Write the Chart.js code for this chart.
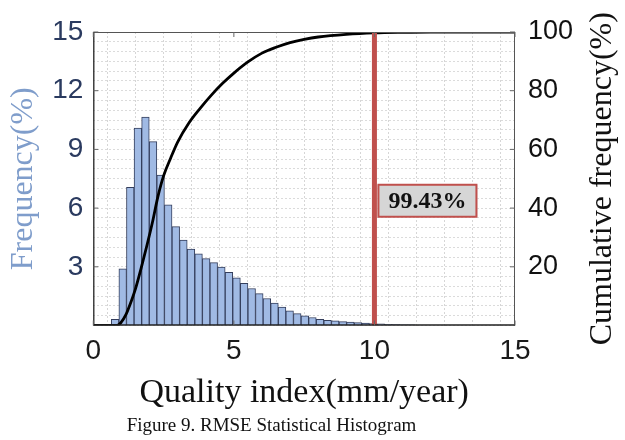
<!DOCTYPE html>
<html><head><meta charset="utf-8">
<script src="https://cdn.jsdelivr.net/npm/chart.js@4.4.1/dist/chart.umd.min.js"></script>
<style>html,body{margin:0;padding:0;background:#fff;}#wrap{width:625px;height:440px;}</style>
</head><body><div id="wrap"><canvas id="c" width="625" height="440"></canvas></div>
<script>
// ---- data ----
const binCenters = [0.775, 1.045, 1.315, 1.585, 1.855, 2.125, 2.395, 2.665, 2.935, 3.205,
  3.475, 3.745, 4.015, 4.285, 4.555, 4.825, 5.095, 5.365, 5.635, 5.905,
  6.175, 6.445, 6.715, 6.985, 7.255, 7.525, 7.795, 8.065, 8.335, 8.605,
  8.875, 9.145, 9.415, 9.685, 9.955, 10.225, 10.495, 10.765, 11.035, 11.305];
const frequency = [0.32, 2.89, 7.06, 10.09, 10.65, 9.40, 7.69, 6.17, 5.05, 4.37,
  3.91, 3.66, 3.42, 3.21, 2.98, 2.72, 2.43, 2.16, 1.89, 1.63,
  1.38, 1.14, 0.94, 0.75, 0.61, 0.49, 0.41, 0.32, 0.27, 0.24,
  0.20, 0.17, 0.15, 0.12, 0.10, 0.08, 0.06, 0.05, 0.04, 0.03];
const cdfX = [0, 0.85, 1.0, 1.15, 1.3, 1.5, 1.7, 1.9, 2.1, 2.3, 2.5, 2.75, 3.0, 3.4, 3.8,
  4.2, 4.6, 5.0, 5.5, 6.0, 6.5, 7.0, 7.5, 8.0, 9.0, 10.0, 11.0, 12.0, 15.0];
const cdfY = [0, 0, 1.2, 3.5, 7, 12.5, 19.5, 27, 35, 44, 51, 57, 62.5, 69, 74,
  78.5, 82.5, 86, 89.8, 92.8, 94.8, 96.4, 97.5, 98.3, 99.2, 99.7, 99.9, 100, 100];
const thresholdX = [10, 10];
const thresholdY = [0, 100];
const thresholdLabel = '99.43%';
const thresholdLabelAt = 42.5;   // cumulative-% level where the label box sits
const xTickLabels = [0, 5, 10, 15];
const freqTickLabels = [3, 6, 9, 12, 15];
const cumTickLabels = [20, 40, 60, 80, 100];
const captionText = 'Figure 9. RMSE Statistical Histogram';
const rightTitle = 'Cumulative frequency(%)';

const RED = '#c0504d';
const SERIF = '"Liberation Serif", "Times New Roman", serif';
const SANS = '"Liberation Sans", Arial, sans-serif';

const framePlugin = {
  id: 'frame',
  afterDraw(chart) {
    const {ctx, chartArea: a, scales} = chart;
    ctx.save();
    // frame
    ctx.strokeStyle = '#555';
    ctx.lineWidth = 1;
    ctx.beginPath();
    ctx.moveTo(a.left, a.top + 0.5); ctx.lineTo(a.right, a.top + 0.5);
    ctx.moveTo(a.right - 0.5, a.top); ctx.lineTo(a.right - 0.5, a.bottom);
    ctx.stroke();
    ctx.strokeStyle = '#222';
    ctx.lineWidth = 1.3;
    ctx.beginPath();
    ctx.moveTo(a.left + 0.5, a.top); ctx.lineTo(a.left + 0.5, a.bottom);
    ctx.moveTo(a.left, a.bottom - 0.5); ctx.lineTo(a.right, a.bottom - 0.5);
    ctx.stroke();
    // inward tick marks
    ctx.strokeStyle = '#666';
    ctx.lineWidth = 1;
    ctx.beginPath();
    freqTickLabels.forEach(v => { const y = scales.y.getPixelForValue(v); ctx.moveTo(a.left, y); ctx.lineTo(a.left + 5, y); });
    cumTickLabels.forEach(v => { const y = scales.y1.getPixelForValue(v); ctx.moveTo(a.right, y); ctx.lineTo(a.right - 5, y); });
    xTickLabels.forEach(v => { const x = scales.x.getPixelForValue(v); ctx.moveTo(x, a.bottom); ctx.lineTo(x, a.bottom - 5); ctx.moveTo(x, a.top); ctx.lineTo(x, a.top + 5); });
    ctx.stroke();
    // threshold label box
    const bx = scales.x.getPixelForValue(thresholdX[0]) + 3;
    const cy = scales.y1.getPixelForValue(thresholdLabelAt);
    const bw = 100, bh = 32;
    ctx.fillStyle = '#d6d6d6';
    ctx.fillRect(bx, cy - bh / 2, bw, bh);
    ctx.strokeStyle = RED; ctx.lineWidth = 2;
    ctx.strokeRect(bx + 1, cy - bh / 2, bw - 2, bh);
    ctx.fillStyle = '#111';
    ctx.font = 'bold 24px ' + SERIF;
    ctx.textAlign = 'center'; ctx.textBaseline = 'middle';
    ctx.fillText(thresholdLabel, bx + bw / 2, cy + 1);
    // caption
    ctx.font = '19px ' + SERIF;
    ctx.fillText(captionText, 271.5, 426);
    // right axis title (reads bottom to top)
    ctx.translate(603, (a.top + a.bottom) / 2);
    ctx.rotate(-Math.PI / 2);
    ctx.font = '32px ' + SERIF;
    ctx.fillStyle = '#111';
    ctx.fillText(rightTitle, 0, 0);
    ctx.restore();
  }
};

new Chart(document.getElementById('c'), {
  type: 'bar',
  data: {
    datasets: [
      {
        type: 'line', label: 'threshold', yAxisID: 'y1', order: 1,
        data: thresholdX.map((x, i) => ({x, y: thresholdY[i]})),
        borderColor: RED, borderWidth: 5, pointRadius: 0, borderCapStyle: 'butt'
      },
      {
        type: 'line', label: 'Cumulative frequency', yAxisID: 'y1', order: 2,
        data: cdfX.map((x, i) => ({x, y: cdfY[i]})),
        borderColor: '#000', borderWidth: 2.8, pointRadius: 0,
        cubicInterpolationMode: 'monotone', fill: false
      },
      {
        type: 'bar', label: 'Frequency', yAxisID: 'y', order: 3,
        data: binCenters.map((x, i) => ({x, y: frequency[i]})),
        backgroundColor: 'rgb(160,186,228)', borderColor: 'rgb(52,62,92)',
        borderWidth: 1, borderSkipped: 'start',
        barPercentage: 1, categoryPercentage: 1
      }
    ]
  },
  options: {
    responsive: false, animation: false, devicePixelRatio: 1,
    layout: { padding: { top: 32, right: 0, left: 0, bottom: 26 } },
    plugins: { legend: { display: false }, tooltip: { enabled: false }, title: { display: false } },
    scales: {
      x: {
        type: 'linear', min: 0, max: 15, offset: false,
        afterFit: s => { s.height = 88.5; },
        ticks: { stepSize: 1, autoSkip: false, maxRotation: 0, padding: 9,
          color: '#1a1a1a', font: { family: SANS, size: 28 },
          callback: v => xTickLabels.includes(v) ? String(v) : '' },
        grid: { color: 'rgba(0,0,0,0.16)', lineWidth: 1, drawTicks: false },
        border: { display: false, dash: [2, 2] },
        title: { display: true, text: 'Quality index(mm/year)', color: '#111',
          font: { family: SERIF, size: 34, lineHeight: 1 }, padding: { top: 0, bottom: 4 } }
      },
      y: {
        type: 'linear', position: 'left', min: 0, max: 15,
        afterFit: s => { s.width = 93.3; },
        ticks: { stepSize: 0.5, autoSkip: false, padding: 10,
          color: '#2a3a5f', font: { family: SANS, size: 28 },
          callback: v => freqTickLabels.includes(v) ? String(v) : '' },
        grid: { color: 'rgba(0,0,0,0.14)', lineWidth: 1, drawTicks: false },
        border: { display: false, dash: [2, 2] },
        title: { display: true, text: 'Frequency(%)', color: '#7f9dcb',
          font: { family: SERIF, size: 32, lineHeight: 1 }, padding: { top: 8, bottom: 0 } }
      },
      y1: {
        type: 'linear', position: 'right', min: 0, max: 100,
        afterFit: s => { s.width = 110; },
        ticks: { stepSize: 20, autoSkip: false, padding: 13,
          color: '#111', font: { family: SANS, size: 27 },
          callback: v => cumTickLabels.includes(v) ? String(v) : '' },
        grid: { drawOnChartArea: false, drawTicks: false },
        border: { display: false }
      }
    }
  },
  plugins: [framePlugin]
});
</script></body></html>
